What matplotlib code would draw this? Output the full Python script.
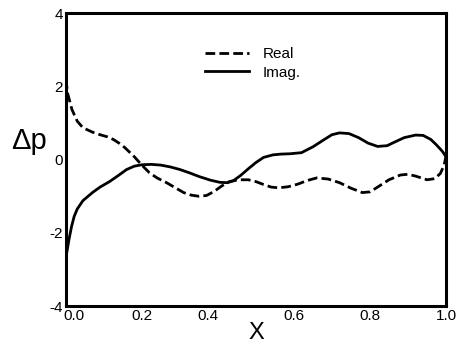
import matplotlib.pyplot as plt
from matplotlib.transforms import ScaledTranslation

plt.rcParams['font.family'] = ['Liberation Sans', 'DejaVu Sans']
plt.rcParams['axes.unicode_minus'] = False

# values
x_real = [0.0, 0.005, 0.016, 0.03, 0.045, 0.07, 0.09, 0.11, 0.125, 0.14, 0.155, 0.17,
          0.18, 0.20, 0.22, 0.24, 0.265, 0.29, 0.31, 0.33, 0.35, 0.37, 0.39, 0.41,
          0.43, 0.455, 0.48, 0.50, 0.52, 0.54, 0.56, 0.585, 0.61, 0.635, 0.66, 0.69,
          0.72, 0.75, 0.78, 0.80, 0.82, 0.85, 0.88, 0.90, 0.92, 0.95, 0.97, 0.985,
          0.995, 1.0]
y_real = [2.2, 1.8, 1.37, 1.05, 0.87, 0.75, 0.68, 0.62, 0.55, 0.45, 0.33, 0.18,
          0.08, -0.15, -0.36, -0.5, -0.63, -0.78, -0.9, -0.97, -1.0, -0.98, -0.87, -0.72,
          -0.6, -0.55, -0.55, -0.6, -0.68, -0.75, -0.77, -0.74, -0.67, -0.57, -0.5, -0.53,
          -0.63, -0.78, -0.9, -0.88, -0.75, -0.55, -0.42, -0.4, -0.45, -0.55, -0.52, -0.38,
          -0.15, 0.1]

x_imag = [0.0, 0.004, 0.008, 0.015, 0.022, 0.03, 0.045, 0.07, 0.09, 0.115, 0.14, 0.16,
          0.18, 0.20, 0.225, 0.25, 0.275, 0.30, 0.325, 0.35, 0.38, 0.405, 0.425, 0.44,
          0.46, 0.48, 0.50, 0.52, 0.545, 0.565, 0.59, 0.62, 0.65, 0.68, 0.70, 0.72,
          0.745, 0.77, 0.795, 0.82, 0.845, 0.865, 0.89, 0.92, 0.94, 0.96, 0.975, 0.99,
          1.0]
y_imag = [-2.7, -2.45, -2.2, -1.83, -1.55, -1.35, -1.12, -0.9, -0.75, -0.6, -0.42, -0.27,
          -0.18, -0.14, -0.13, -0.15, -0.2, -0.27, -0.36, -0.46, -0.56, -0.62, -0.63, -0.58,
          -0.43, -0.25, -0.08, 0.06, 0.13, 0.15, 0.16, 0.19, 0.35, 0.55, 0.68, 0.73,
          0.71, 0.6, 0.45, 0.36, 0.38, 0.48, 0.6, 0.67, 0.66, 0.55, 0.4, 0.23,
          0.08]

x_ticks = [0.0, 0.2, 0.4, 0.6, 0.8, 1.0]
y_ticks = [-4, -2, 0, 2, 4]

fig = plt.figure(figsize=(4.57, 3.44), dpi=100)
ax = fig.add_axes([0.144, 0.110, 0.832, 0.852])

ax.plot(x_real, y_real, color='black', lw=2.0, ls=(0, (3.5, 1.5)), label='Real')
ax.plot(x_imag, y_imag, color='black', lw=2.0, ls='-', label='Imag.')

ax.set_xlim(0, 1)
ax.set_ylim(-4, 4)
ax.set_xticks(x_ticks)
ax.set_xticklabels([f'{t:.1f}' for t in x_ticks])
ax.set_yticks(y_ticks)
ax.tick_params(direction='in', length=0, labelsize=11, pad=2)
for s in ax.spines.values():
    s.set_linewidth(2.2)

# the scanned labels sit a bit off their ticks
labels = ax.get_xticklabels()
labels[0].set_transform(labels[0].get_transform() + ScaledTranslation(8 / 100, 0, fig.dpi_scale_trans))
labels[2].set_transform(labels[2].get_transform() + ScaledTranslation(-10 / 100, 0, fig.dpi_scale_trans))

ax.set_xlabel('X', fontsize=17, labelpad=-1)
ax.set_ylabel('\u0394p', fontsize=21, rotation=0, va='center', ha='center')
ax.yaxis.set_label_coords(-0.098, 0.565)

ax.legend(loc='upper left', bbox_to_anchor=(0.35, 0.905), frameon=False, fontsize=11,
          handlelength=2.9, labelspacing=0.3, handletextpad=0.9, borderaxespad=0)

fig.savefig('out.png', dpi=100)
